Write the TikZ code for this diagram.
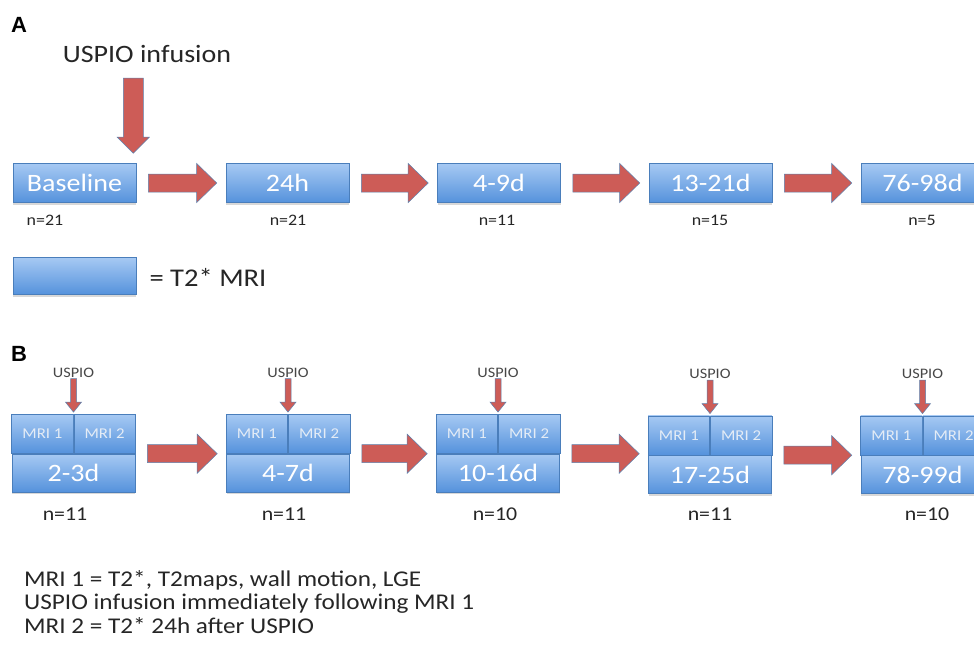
\documentclass[tikz,border=0pt]{standalone}
\usepackage{fontspec}
\setmainfont{Carlito}[FakeStretch=1.12]
\newfontfamily\panelfont{Liberation Sans}
\usetikzlibrary{calc,shadows}

\definecolor{boxtop}{HTML}{A6C9F3}
\definecolor{boxbottom}{HTML}{5592DC}
\definecolor{boxedge}{HTML}{4A7EBB}
\definecolor{arrowred}{HTML}{CD5C57}
\definecolor{arrowedge}{HTML}{5B82B0}
\definecolor{mritext}{HTML}{E4ECF6}
\definecolor{inktext}{HTML}{262626}

% horizontal block arrow between two anchors
\newcommand{\sideArrow}[2]{%
  \path ([xshift=12pt]#1) coordinate (s) (#2 |- s) ++(-9,0) coordinate (t);
  \path[fatarrow] ($(s)+(0,-9)$) -- ($(t)+(-20,-9)$) -- ($(t)+(-20,-19.5)$) -- (t)
    -- ($(t)+(-20,19.5)$) -- ($(t)+(-20,9)$) -- ($(s)+(0,9)$) -- cycle;}
% vertical block arrow: start, tip, shaft half width, head half width, head length
\newcommand{\dropArrow}[5]{%
  \path[fatarrow] ($(#1)+(-#3,0)$) -- ($(#2)+(-#3,-#5)$) -- ($(#2)+(-#4,-#5)$) -- (#2)
    -- ($(#2)+(#4,-#5)$) -- ($(#2)+(#3,-#5)$) -- ($(#1)+(#3,0)$) -- cycle;}

\begin{document}
\begin{tikzpicture}[x=1pt,y=-1pt,
  mribox/.style={draw=boxedge, line width=0.6pt, top color=boxtop, bottom color=boxbottom,
    minimum width=123pt, minimum height=39pt, inner sep=0pt, text=white,
    font=\fontsize{25}{25}\selectfont,
    drop shadow={shadow xshift=0pt, shadow yshift=-2pt, opacity=0.3}},
  mricell/.style={draw=boxedge, line width=0.6pt, top color=boxtop, bottom color=boxbottom,
    minimum width=61.5pt, minimum height=39pt, inner sep=0pt, text=mritext,
    font=\fontsize{15}{15}\selectfont},
  fatarrow/.style={fill=arrowred, draw=arrowedge, line width=0.5pt},
  countA/.style={text=inktext, font=\fontsize{16}{16}\selectfont},
  countB/.style={text=inktext, font=\fontsize{19.5}{19.5}\selectfont},
  uspio/.style={text=inktext!85, font=\fontsize{14.5}{14.5}\selectfont, inner sep=1pt},
  panellabel/.style={font=\panelfont\bfseries\fontsize{22}{22}\selectfont}]
\useasboundingbox[fill=white] (0,0) rectangle (974,651);

% Panel labels
\node[panellabel] (labA) at (19,25) {A};
\node[panellabel] (labB) at (19,354) {B};

%% Panel A
% Text Node
\node[text=inktext, font=\fontsize{25}{25}\selectfont] (infusion) at (147,54) {USPIO infusion};
\node[mribox] (base) at (74.5,183) {Baseline};
\node[mribox] (h24) at (287.5,183) {24h};
\node[mribox] (d4) at (499,183) {4-9d};
\node[mribox] (d13) at (710.5,183) {13-21d};
\node[mribox] (d76) at (922.5,183) {76-98d};
\coordinate (inftip) at ([xshift=-3pt,yshift=10pt]base.north east);
\coordinate (inftop) at (inftip |- 0,78);
\dropArrow{inftop}{inftip}{10}{16}{16}
\sideArrow{base.east}{h24.west}
\sideArrow{h24.east}{d4.west}
\sideArrow{d4.east}{d13.west}
\sideArrow{d13.east}{d76.west}
% Text Node
\node[countA] (nbase) at (45,220) {n=21};
\node[countA] (nh24) at (288,220) {n=21};
\node[countA] (nd4) at (497,220) {n=11};
\node[countA] (nd13) at (710,220) {n=15};
\node[countA] (nd76) at (922,220) {n=5};

% Legend
\node[mribox, minimum height=37pt] (legend) at (74.5,276) {};
\node[anchor=west, text=inktext, font=\fontsize{25.5}{25.5}\selectfont] (legtext) at (146,277) {= T2* MRI};

%% Panel B
\node[mribox, minimum height=38pt] (b1d) at (73.5,473) {2-3d};
\node[mricell, anchor=south east] (b1m1) at (b1d.north) {MRI 1};
\node[mricell, anchor=south west] (b1m2) at (b1d.north) {MRI 2};
\node[mribox, minimum height=38pt] (b2d) at (288,473) {4-7d};
\node[mricell, anchor=south east] (b2m1) at (b2d.north) {MRI 1};
\node[mricell, anchor=south west] (b2m2) at (b2d.north) {MRI 2};
\node[mribox, minimum height=38pt] (b3d) at (498,473) {10-16d};
\node[mricell, anchor=south east] (b3m1) at (b3d.north) {MRI 1};
\node[mricell, anchor=south west] (b3m2) at (b3d.north) {MRI 2};
\node[mribox, minimum height=38pt] (b4d) at (710,474.5) {17-25d};
\node[mricell, anchor=south east] (b4m1) at (b4d.north) {MRI 1};
\node[mricell, anchor=south west] (b4m2) at (b4d.north) {MRI 2};
\node[mribox, minimum height=38pt] (b5d) at (922.5,474.5) {78-99d};
\node[mricell, anchor=south east] (b5m1) at (b5d.north) {MRI 1};
\node[mricell, anchor=south west] (b5m2) at (b5d.north) {MRI 2};
% USPIO labels and arrows
\node[uspio] (u1) at ([yshift=81pt]b1d.north) {USPIO};
\node[uspio] (u2) at ([yshift=81pt]b2d.north) {USPIO};
\node[uspio] (u3) at ([yshift=81pt]b3d.north) {USPIO};
\node[uspio] (u4) at ([yshift=81pt]b4d.north) {USPIO};
\node[uspio] (u5) at ([yshift=81pt]b5d.north) {USPIO};
\dropArrow{u1.south}{[yshift=2pt]b1m1.north east}{3}{8}{10}
\dropArrow{u2.south}{[yshift=2pt]b2m1.north east}{3}{8}{10}
\dropArrow{u3.south}{[yshift=2pt]b3m1.north east}{3}{8}{10}
\dropArrow{u4.south}{[yshift=2pt]b4m1.north east}{3}{8}{10}
\dropArrow{u5.south}{[yshift=2pt]b5m1.north east}{3}{8}{10}
\sideArrow{b1d.north east}{b2d.north west}
\sideArrow{b2d.north east}{b3d.north west}
\sideArrow{b3d.north east}{b4d.north west}
\sideArrow{b4d.north east}{b5d.north west}
% Text Node
\node[countB] (nb1) at (65,514) {n=11};
\node[countB] (nb2) at (284,514) {n=11};
\node[countB] (nb3) at (495,514) {n=10};
\node[countB] (nb4) at (710,514) {n=11};
\node[countB] (nb5) at (927,514) {n=10};

% Notes
\node[anchor=north west, align=left, inner sep=0pt, text=inktext,
  font=\fontsize{22.5}{23.5}\selectfont] (notes) at (24,570)
  {MRI 1 = T2*, T2maps, wall motion, LGE\\
   USPIO infusion immediately following MRI 1\\
   MRI 2 = T2* 24h after USPIO};
\end{tikzpicture}
\end{document}
